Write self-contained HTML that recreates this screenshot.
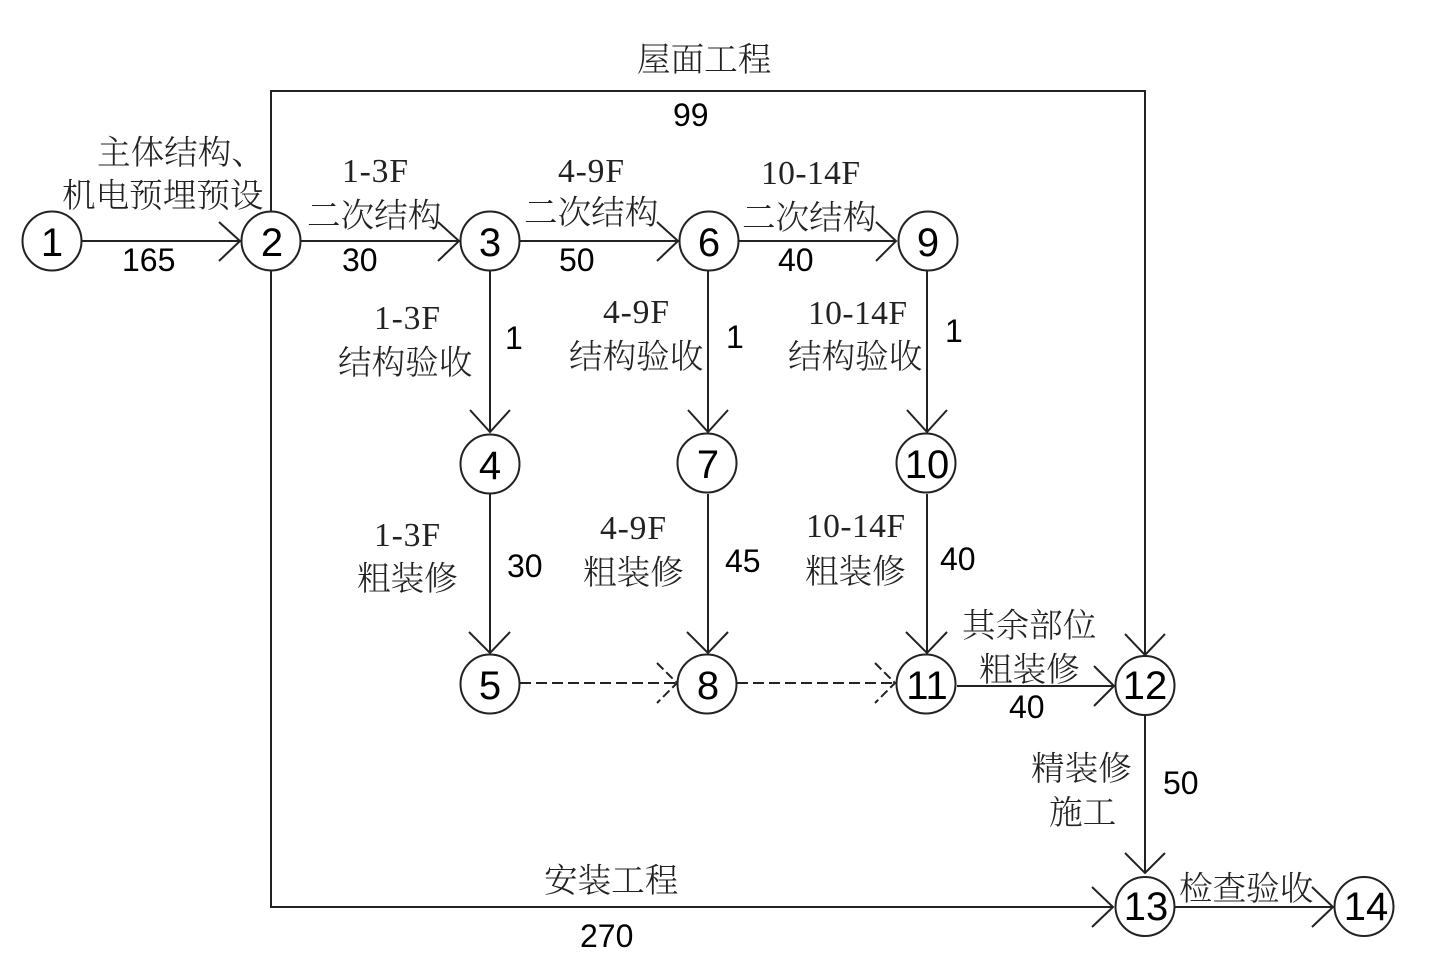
<!DOCTYPE html>
<html>
<head>
<meta charset="utf-8">
<style>
html,body{margin:0;padding:0;background:#fff;width:1430px;height:960px;overflow:hidden}
svg{display:block}
.c{font-family:"Liberation Serif","Noto Serif CJK SC",serif;font-size:33.6px;fill:#222;font-weight:300}
.n{font-family:"Liberation Sans",sans-serif;font-size:32px;fill:#000}
.d{font-family:"Liberation Sans",sans-serif;font-size:40px;fill:#000;text-anchor:middle}
.l{fill:none;stroke:#222;stroke-width:2}
circle{fill:#fff;stroke:#222;stroke-width:2}
</style>
</head>
<body>
<svg width="1430" height="960" viewBox="0 0 1430 960" xmlns="http://www.w3.org/2000/svg">
<!-- outer connectors -->
<path class="l" d="M271 211V91H1145V655"/>
<path class="l" d="M271 271V907H1113"/>
<!-- solid connectors -->
<path class="l" d="M81 241H240M219 222L240 241L219 261"/>
<path class="l" d="M301 241H459M438 222L459 241L438 261"/>
<path class="l" d="M520 241H678M657 222L678 241L657 261"/>
<path class="l" d="M739 241H896M876 222L896 241L876 261"/>
<path class="l" d="M490 271V432M470 410L490 432L510 410"/>
<path class="l" d="M708 271V432M688 410L708 432L728 410"/>
<path class="l" d="M927 271V432M907 410L927 432L947 410"/>
<path class="l" d="M490 494V653M469 632L490 653L510 632"/>
<path class="l" d="M708 494V653M687 632L708 653L728 632"/>
<path class="l" d="M927 494V653M906 632L927 653L947 632"/>
<path class="l" d="M957 686H1114M1094 666L1114 686L1094 706"/>
<path class="l" d="M1125 634L1145 655L1165 634"/>
<path class="l" d="M1145 715V873M1125 853L1145 873L1165 853"/>
<path class="l" d="M1092 887L1113 907L1092 927"/>
<path class="l" d="M1175 907H1333M1312 887L1333 907L1312 927"/>
<!-- dashed -->
<path class="l" stroke-dasharray="11 5" d="M520 683H677"/>
<path class="l" stroke-dasharray="11 5" d="M737 683H895"/>
<path class="l" stroke-dasharray="9 4" d="M657 663L677 683L657 703"/>
<path class="l" stroke-dasharray="9 4" d="M875 663L895 683L875 703"/>
<!-- nodes -->
<circle cx="52" cy="241" r="29.5"/><text class="d" x="52" y="256">1</text>
<circle cx="271" cy="241" r="29.5"/><text class="d" x="272" y="256">2</text>
<circle cx="490" cy="241" r="29.5"/><text class="d" x="490" y="256">3</text>
<circle cx="709" cy="241" r="29.5"/><text class="d" x="709" y="256">6</text>
<circle cx="928" cy="241" r="29.5"/><text class="d" x="928" y="256">9</text>
<circle cx="490" cy="464" r="29.5"/><text class="d" x="490" y="479">4</text>
<circle cx="707" cy="463" r="29.5"/><text class="d" x="708" y="478">7</text>
<circle cx="926" cy="463" r="29.5"/><text class="d" x="927" y="478">10</text>
<circle cx="490" cy="684" r="29.5"/><text class="d" x="490" y="699">5</text>
<circle cx="707" cy="684" r="29.5"/><text class="d" x="708" y="699">8</text>
<circle cx="926" cy="684" r="29.5"/><text class="d" x="927" y="699">11</text>
<circle cx="1145" cy="685.5" r="29.5"/><text class="d" x="1145" y="699">12</text>
<circle cx="1145" cy="906.5" r="29.5"/><text class="d" x="1146" y="920">13</text>
<circle cx="1364" cy="906.5" r="29.5"/><text class="d" x="1366" y="920">14</text>
<!-- CJK labels -->
<g transform="translate(0,1)">
<text class="c" x="637" y="70">屋面工程</text>
<text class="c" x="97" y="163">主体结构、</text>
<text class="c" x="62" y="206">机电预埋预设</text>
<text class="c" x="342" y="181" textLength="66">1-3F</text>
<text class="c" x="307" y="226">二次结构</text>
<text class="c" x="558" y="181" textLength="66">4-9F</text>
<text class="c" x="524" y="223">二次结构</text>
<text class="c" x="761" y="183" textLength="99">10-14F</text>
<text class="c" x="742" y="228">二次结构</text>
<text class="c" x="374" y="328" textLength="66">1-3F</text>
<text class="c" x="338" y="373">结构验收</text>
<text class="c" x="603" y="322" textLength="66">4-9F</text>
<text class="c" x="569" y="367">结构验收</text>
<text class="c" x="808" y="323" textLength="99">10-14F</text>
<text class="c" x="788" y="367">结构验收</text>
<text class="c" x="374" y="545" textLength="66">1-3F</text>
<text class="c" x="357" y="589">粗装修</text>
<text class="c" x="600" y="538" textLength="66">4-9F</text>
<text class="c" x="583" y="583">粗装修</text>
<text class="c" x="806" y="536" textLength="99">10-14F</text>
<text class="c" x="805" y="582">粗装修</text>
<text class="c" x="962" y="636">其余部位</text>
<text class="c" x="979" y="680">粗装修</text>
<text class="c" x="1031" y="779">精装修</text>
<text class="c" x="1049" y="823">施工</text>
<text class="c" x="544" y="891">安装工程</text>
<text class="c" x="1179" y="899">检查验收</text>
</g>
<!-- numbers -->
<text class="n" x="673" y="126">99</text>
<text class="n" x="122" y="271">165</text>
<text class="n" x="342" y="271">30</text>
<text class="n" x="559" y="271">50</text>
<text class="n" x="778" y="271">40</text>
<text class="n" x="505" y="349">1</text>
<text class="n" x="726" y="348">1</text>
<text class="n" x="945" y="342">1</text>
<text class="n" x="507" y="577">30</text>
<text class="n" x="725" y="572">45</text>
<text class="n" x="940" y="570">40</text>
<text class="n" x="1009" y="718">40</text>
<text class="n" x="1163" y="794">50</text>
<text class="n" x="580" y="947">270</text>
</svg>
</body>
</html>
